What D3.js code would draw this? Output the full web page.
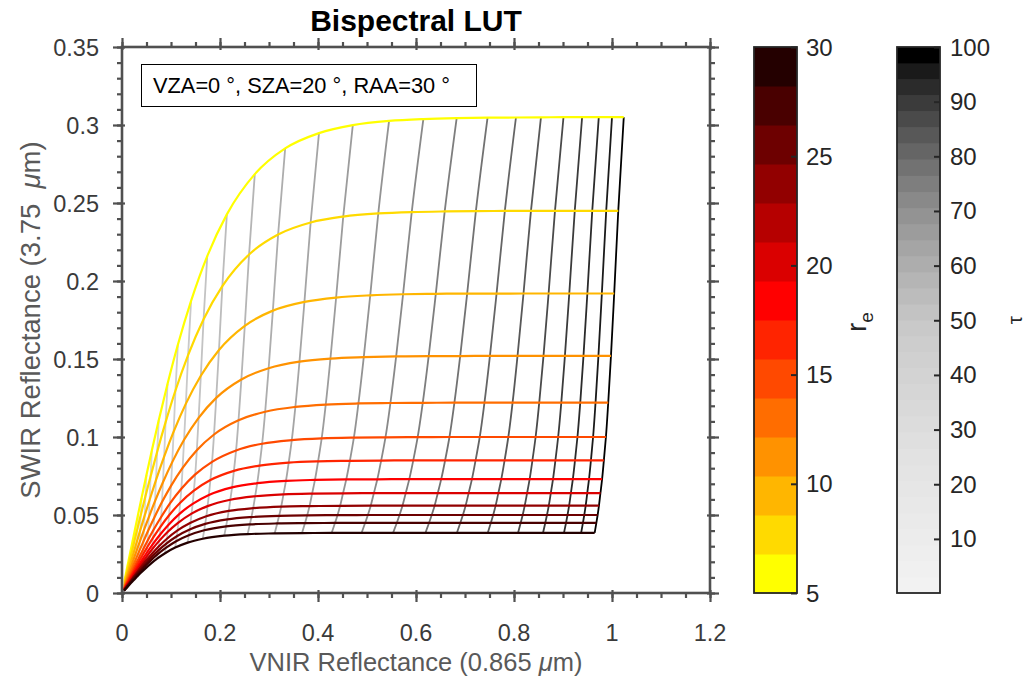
<!DOCTYPE html>
<html>
<head>
<meta charset="utf-8">
<script src="https://cdn.jsdelivr.net/npm/d3@7"></script>
<style>
  body { margin: 0; background: #fff; }
  svg { display: block; }
  text { font-family: "Liberation Sans", Arial, Helvetica, sans-serif; }
</style>
</head>
<body>
<svg id="chart" width="1029" height="682"></svg>
<script>
// Bispectral look-up table: one row per effective radius, one column per optical thickness.
const effectiveRadius = [5, 7, 9, 11, 13, 15, 17, 19, 21, 23, 25, 27, 30];
const opticalThickness = [0.1, 0.15, 0.2, 0.25, 0.3, 0.4, 0.5, 0.6, 0.75, 0.9, 1.1, 1.4, 1.7, 2.1, 2.6, 3.2, 4,
  5, 6.3, 8, 10, 12.5, 15, 18, 22, 26, 30, 36, 43, 50, 60, 70, 85, 100];

// VNIR (0.865 um) reflectance
const vnirReflectance = [
  [0.0051,0.0063,0.0077,0.0095,0.0117,0.0144,0.0180,0.0220,0.0270,0.0330,0.0400,0.0500,0.0610,0.0750,0.0930,0.1140,0.1410,0.1740,0.2140,0.2710,0.3330,0.4020,0.4710,0.5450,0.6150,0.6830,0.7460,0.8040,0.8550,0.9010,0.9390,0.9730,1.0000,1.0240],
  [0.0049,0.0060,0.0074,0.0091,0.0112,0.0138,0.0172,0.0211,0.0258,0.0316,0.0383,0.0478,0.0584,0.0718,0.0890,0.1091,0.1349,0.1665,0.2048,0.2593,0.3186,0.3850,0.4515,0.5230,0.5913,0.6586,0.7222,0.7813,0.8346,0.8836,0.9240,0.9597,0.9882,1.0128],
  [0.0047,0.0058,0.0071,0.0088,0.0108,0.0133,0.0166,0.0203,0.0250,0.0305,0.0370,0.0462,0.0564,0.0693,0.0860,0.1054,0.1304,0.1609,0.1979,0.2506,0.3079,0.3723,0.4370,0.5066,0.5736,0.6404,0.7044,0.7644,0.8194,0.8706,0.9128,0.9497,0.9793,1.0045],
  [0.0046,0.0057,0.0069,0.0085,0.0105,0.0129,0.0162,0.0198,0.0243,0.0297,0.0360,0.0449,0.0548,0.0674,0.0836,0.1025,0.1267,0.1564,0.1923,0.2436,0.2993,0.3622,0.4254,0.4934,0.5595,0.6259,0.6902,0.7509,0.8072,0.8602,0.9039,0.9418,0.9723,0.9979],
  [0.0045,0.0055,0.0068,0.0083,0.0103,0.0126,0.0158,0.0193,0.0237,0.0290,0.0351,0.0439,0.0535,0.0658,0.0816,0.1000,0.1237,0.1527,0.1878,0.2378,0.2922,0.3538,0.4158,0.4825,0.5478,0.6138,0.6784,0.7397,0.7971,0.8515,0.8965,0.9352,0.9664,0.9923],
  [0.0044,0.0054,0.0066,0.0082,0.0101,0.0124,0.0155,0.0189,0.0232,0.0283,0.0344,0.0430,0.0524,0.0644,0.0799,0.0979,0.1211,0.1495,0.1838,0.2328,0.2860,0.3465,0.4075,0.4732,0.5377,0.6034,0.6683,0.7301,0.7884,0.8441,0.8901,0.9295,0.9614,0.9876],
  [0.0043,0.0053,0.0065,0.0080,0.0099,0.0121,0.0152,0.0185,0.0228,0.0278,0.0337,0.0421,0.0514,0.0632,0.0784,0.0961,0.1188,0.1467,0.1804,0.2284,0.2807,0.3402,0.4002,0.4650,0.5289,0.5944,0.6594,0.7216,0.7808,0.8376,0.8845,0.9245,0.9570,0.9834],
  [0.0042,0.0052,0.0064,0.0079,0.0097,0.0119,0.0149,0.0182,0.0224,0.0273,0.0331,0.0414,0.0506,0.0622,0.0771,0.0945,0.1168,0.1442,0.1773,0.2246,0.2760,0.3346,0.3938,0.4577,0.5211,0.5863,0.6515,0.7142,0.7741,0.8319,0.8796,0.9201,0.9531,0.9798],
  [0.0042,0.0051,0.0063,0.0078,0.0095,0.0117,0.0147,0.0179,0.0220,0.0269,0.0326,0.0408,0.0498,0.0612,0.0759,0.0930,0.1150,0.1419,0.1746,0.2211,0.2717,0.3295,0.3880,0.4511,0.5140,0.5790,0.6444,0.7074,0.7680,0.8267,0.8751,0.9161,0.9495,0.9764],
  [0.0041,0.0051,0.0062,0.0076,0.0094,0.0116,0.0145,0.0177,0.0217,0.0265,0.0322,0.0402,0.0490,0.0603,0.0748,0.0917,0.1134,0.1399,0.1721,0.2179,0.2677,0.3249,0.3827,0.4452,0.5076,0.5724,0.6380,0.7013,0.7625,0.8219,0.8710,0.9125,0.9463,0.9734],
  [0.0040,0.0050,0.0061,0.0075,0.0093,0.0114,0.0143,0.0175,0.0214,0.0262,0.0317,0.0397,0.0484,0.0595,0.0738,0.0905,0.1119,0.1381,0.1698,0.2150,0.2642,0.3207,0.3780,0.4398,0.5018,0.5664,0.6321,0.6957,0.7575,0.8177,0.8673,0.9092,0.9434,0.9707],
  [0.0040,0.0049,0.0060,0.0074,0.0092,0.0113,0.0141,0.0172,0.0212,0.0259,0.0313,0.0392,0.0478,0.0588,0.0729,0.0893,0.1105,0.1363,0.1677,0.2124,0.2609,0.3168,0.3735,0.4347,0.4963,0.5609,0.6267,0.6905,0.7528,0.8137,0.8639,0.9062,0.9407,0.9681],
  [0.0039,0.0049,0.0059,0.0073,0.0090,0.0111,0.0139,0.0169,0.0208,0.0254,0.0308,0.0385,0.0470,0.0578,0.0716,0.0878,0.1086,0.1340,0.1648,0.2087,0.2564,0.3115,0.3674,0.4278,0.4889,0.5532,0.6192,0.6834,0.7464,0.8082,0.8592,0.9020,0.9370,0.9646]
];

// SWIR (3.75 um) reflectance
const swirReflectance = [
  [0.0079,0.0098,0.0119,0.0147,0.0181,0.0223,0.0278,0.0339,0.0415,0.0506,0.0611,0.0758,0.0915,0.1108,0.1341,0.1591,0.1873,0.2160,0.2427,0.2685,0.2850,0.2948,0.2999,0.3026,0.3038,0.3044,0.3047,0.3048,0.3049,0.3050,0.3050,0.3050,0.3050,0.3050],
  [0.0065,0.0080,0.0098,0.0120,0.0148,0.0182,0.0227,0.0278,0.0340,0.0414,0.0500,0.0620,0.0748,0.0906,0.1095,0.1298,0.1525,0.1755,0.1967,0.2170,0.2298,0.2375,0.2413,0.2433,0.2442,0.2446,0.2448,0.2449,0.2450,0.2450,0.2450,0.2450,0.2450,0.2450],
  [0.0052,0.0064,0.0078,0.0096,0.0119,0.0146,0.0182,0.0222,0.0272,0.0331,0.0400,0.0496,0.0598,0.0723,0.0874,0.1034,0.1214,0.1393,0.1558,0.1713,0.1810,0.1866,0.1894,0.1908,0.1915,0.1918,0.1919,0.1919,0.1920,0.1920,0.1920,0.1920,0.1920,0.1920],
  [0.0042,0.0052,0.0064,0.0079,0.0097,0.0119,0.0149,0.0181,0.0222,0.0270,0.0326,0.0404,0.0487,0.0589,0.0710,0.0839,0.0982,0.1123,0.1251,0.1369,0.1441,0.1483,0.1503,0.1512,0.1517,0.1519,0.1519,0.1520,0.1520,0.1520,0.1520,0.1520,0.1520,0.1520],
  [0.0035,0.0043,0.0052,0.0065,0.0080,0.0098,0.0122,0.0149,0.0183,0.0222,0.0268,0.0332,0.0401,0.0483,0.0583,0.0687,0.0802,0.0915,0.1016,0.1107,0.1162,0.1193,0.1208,0.1215,0.1218,0.1219,0.1220,0.1220,0.1220,0.1220,0.1220,0.1220,0.1220,0.1220],
  [0.0029,0.0036,0.0044,0.0054,0.0067,0.0082,0.0103,0.0125,0.0153,0.0187,0.0225,0.0279,0.0336,0.0405,0.0487,0.0574,0.0668,0.0760,0.0841,0.0914,0.0957,0.0980,0.0991,0.0996,0.0998,0.0999,0.1000,0.1000,0.1000,0.1000,0.1000,0.1000,0.1000,0.1000],
  [0.0026,0.0032,0.0039,0.0048,0.0059,0.0072,0.0090,0.0110,0.0134,0.0163,0.0197,0.0244,0.0293,0.0353,0.0424,0.0498,0.0579,0.0656,0.0724,0.0783,0.0817,0.0836,0.0844,0.0847,0.0849,0.0850,0.0850,0.0850,0.0850,0.0850,0.0850,0.0850,0.0850,0.0850],
  [0.0023,0.0028,0.0034,0.0042,0.0052,0.0063,0.0079,0.0097,0.0118,0.0144,0.0173,0.0214,0.0258,0.0310,0.0372,0.0436,0.0506,0.0571,0.0628,0.0677,0.0704,0.0719,0.0725,0.0728,0.0729,0.0730,0.0730,0.0730,0.0730,0.0730,0.0730,0.0730,0.0730,0.0730],
  [0.0020,0.0025,0.0031,0.0038,0.0047,0.0057,0.0071,0.0087,0.0107,0.0130,0.0156,0.0193,0.0232,0.0279,0.0334,0.0391,0.0451,0.0509,0.0557,0.0598,0.0620,0.0632,0.0637,0.0639,0.0640,0.0640,0.0640,0.0640,0.0640,0.0640,0.0640,0.0640,0.0640,0.0640],
  [0.0018,0.0023,0.0027,0.0034,0.0042,0.0051,0.0064,0.0078,0.0096,0.0116,0.0140,0.0173,0.0208,0.0249,0.0298,0.0348,0.0401,0.0450,0.0492,0.0526,0.0544,0.0554,0.0557,0.0559,0.0560,0.0560,0.0560,0.0560,0.0560,0.0560,0.0560,0.0560,0.0560,0.0560],
  [0.0017,0.0021,0.0025,0.0031,0.0038,0.0047,0.0059,0.0072,0.0088,0.0107,0.0128,0.0158,0.0190,0.0228,0.0272,0.0317,0.0364,0.0407,0.0443,0.0472,0.0487,0.0495,0.0498,0.0499,0.0500,0.0500,0.0500,0.0500,0.0500,0.0500,0.0500,0.0500,0.0500,0.0500],
  [0.0015,0.0019,0.0023,0.0029,0.0035,0.0043,0.0054,0.0066,0.0081,0.0098,0.0118,0.0145,0.0174,0.0209,0.0249,0.0289,0.0332,0.0370,0.0402,0.0427,0.0440,0.0446,0.0448,0.0449,0.0450,0.0450,0.0450,0.0450,0.0450,0.0450,0.0450,0.0450,0.0450,0.0450],
  [0.0014,0.0017,0.0021,0.0026,0.0031,0.0039,0.0048,0.0059,0.0072,0.0087,0.0105,0.0130,0.0155,0.0185,0.0220,0.0255,0.0291,0.0323,0.0348,0.0368,0.0378,0.0382,0.0384,0.0385,0.0385,0.0385,0.0385,0.0385,0.0385,0.0385,0.0385,0.0385,0.0385,0.0385]
];

// axis and colorbar tick labels
const xTicks = [0, 0.2, 0.4, 0.6, 0.8, 1, 1.2];
const yTicks = [0, 0.05, 0.1, 0.15, 0.2, 0.25, 0.3, 0.35];
const reBarTicks = [5, 10, 15, 20, 25, 30];
const tauBarTicks = [10, 20, 30, 40, 50, 60, 70, 80, 90, 100];

// colormaps: yellow-red-black for r_e, light-to-black grey for tau
const reColormap = ["#ffff00","#ffda00","#ffb600","#ff9200","#ff6d00","#ff4900","#ff2400",
  "#ff0000","#da0000","#b60000","#920000","#6d0000","#490000","#240000"];
const tauColormap = ["#f2f2f2","#f0f0f0","#eeeeee","#ececec","#eaeaea","#e8e8e8","#e6e6e6","#e4e4e4",
  "#e2e2e2","#dfdfdf","#dcdcdc","#d9d9d9","#d6d6d6","#d3d3d3","#d0d0d0","#cdcdcd","#c9c9c9","#c3c3c3",
  "#bcbcbc","#b5b5b5","#adadad","#a5a5a5","#9c9c9c","#939393","#898989","#7e7e7e","#727272","#656565",
  "#585858","#4a4a4a","#3b3b3b","#2b2b2b","#1a1a1a","#000000"];

const svg = d3.select("#chart");
const axisColor = "#505050";
const inkColor = "#262626";
const box = { left: 122, right: 710, top: 47, bottom: 593 };

const x = d3.scaleLinear().domain([0, 1.2]).range([box.left, box.right]);
const y = d3.scaleLinear().domain([0, 0.35]).range([box.bottom, box.top]);
const reColor = d3.scaleQuantize().domain([d3.min(effectiveRadius), d3.max(effectiveRadius)]).range(reColormap);

const reLine = d3.line().x(d => x(d[0])).y(d => y(d[1])).curve(d3.curveMonotoneX);
const tauLine = d3.line().x(d => x(d[0])).y(d => y(d[1])).curve(d3.curveMonotoneY);
const curves = svg.append("g").attr("fill", "none").attr("stroke-linejoin", "round");

// constant-tau lines (underneath)
opticalThickness.forEach((t, i) => {
  const pts = effectiveRadius.map((re, j) => [vnirReflectance[j][i], swirReflectance[j][i]]);
  curves.append("path").attr("d", tauLine(pts))
    .attr("stroke", tauColormap[i]).attr("stroke-width", 1.8);
});

// constant-r_e curves
effectiveRadius.forEach((re, j) => {
  const pts = opticalThickness.map((t, i) => [vnirReflectance[j][i], swirReflectance[j][i]]);
  curves.append("path").attr("d", reLine(pts))
    .attr("stroke", reColor(re)).attr("stroke-width", 2.2);
});

// frame with ticks on all four sides
const xMinor = x.ticks(24), yMinor = y.ticks(35);
function tickSet(axisFn, scale, values, size, tr) {
  const g = svg.append("g").attr("transform", tr)
    .call(axisFn(scale).tickValues(values).tickSize(size).tickSizeOuter(0).tickFormat(""));
  g.select(".domain").remove();
  g.selectAll("line").attr("stroke", axisColor).attr("stroke-width", 2.2);
}
[[d3.axisBottom, x, `translate(0,${box.bottom})`, xTicks, xMinor],
 [d3.axisTop, x, `translate(0,${box.top})`, xTicks, xMinor],
 [d3.axisLeft, y, `translate(${box.left},0)`, yTicks, yMinor],
 [d3.axisRight, y, `translate(${box.right},0)`, yTicks, yMinor]].forEach(([fn, sc, tr, major, minor]) => {
  tickSet(fn, sc, minor, 5, tr);
  tickSet(fn, sc, major, 9, tr);
  tickSet(fn, sc, major, -3, tr);
});
svg.append("rect").attr("x", box.left).attr("y", box.top)
  .attr("width", box.right - box.left).attr("height", box.bottom - box.top)
  .attr("fill", "none").attr("stroke", axisColor).attr("stroke-width", 2.6);

// tick labels
const fmt = d3.format("~g");
svg.append("g").selectAll("text").data(xTicks).join("text")
  .attr("x", d => x(d)).attr("y", 641).attr("text-anchor", "middle")
  .attr("font-size", 23.5).attr("fill", "#3a3a3a").text(fmt);
svg.append("g").selectAll("text").data(yTicks).join("text")
  .attr("x", 99).attr("y", d => y(d) + 8.5).attr("text-anchor", "end")
  .attr("font-size", 23.5).attr("fill", "#3a3a3a").text(fmt);

// axis labels and title
const xl = svg.append("text").attr("x", (box.left + box.right) / 2).attr("y", 671)
  .attr("text-anchor", "middle").attr("font-size", 25.5).attr("fill", "#595959");
xl.append("tspan").text("VNIR Reflectance (0.865\u00a0");
xl.append("tspan").attr("font-style", "italic").text("\u03bc");
xl.append("tspan").text("m)");

const yl = svg.append("text").attr("transform", `translate(40,${(box.top + box.bottom) / 2}) rotate(-90)`)
  .attr("text-anchor", "middle").attr("font-size", 27.5).attr("fill", "#595959");
yl.append("tspan").text("SWIR Reflectance (3.75\u00a0\u00a0");
yl.append("tspan").attr("font-style", "italic").text("\u03bc");
yl.append("tspan").text("m)");

svg.append("text").attr("x", (box.left + box.right) / 2).attr("y", 31)
  .attr("text-anchor", "middle").attr("font-size", 30).attr("font-weight", "bold")
  .attr("fill", "#000").text("Bispectral LUT");

// geometry annotation
svg.append("rect").attr("x", 141.5).attr("y", 64.5).attr("width", 335).attr("height", 42)
  .attr("fill", "#fff").attr("stroke", "#000").attr("stroke-width", 1);
svg.append("text").attr("x", 153).attr("y", 93).attr("font-size", 21.8).attr("fill", "#000")
  .text("VZA=0 \u00b0, SZA=20 \u00b0, RAA=30 \u00b0");

// colorbars
function colorbar(left, width, values, colors, ticks, labelX) {
  const scale = d3.scaleLinear().domain(d3.extent(values)).range([box.bottom, box.top]);
  const q = d3.scaleQuantize().domain(d3.extent(values)).range(colors);
  const g = svg.append("g");
  g.selectAll("rect").data(colors).join("rect")
    .attr("x", left).attr("width", width)
    .attr("y", c => scale(q.invertExtent(c)[1]))
    .attr("height", c => scale(q.invertExtent(c)[0]) - scale(q.invertExtent(c)[1]) + 0.5)
    .attr("fill", c => c);
  const ax = g.append("g").attr("transform", `translate(${left + width},0)`)
    .call(d3.axisLeft(scale).tickValues(ticks).tickSize(6).tickSizeOuter(0).tickFormat(""));
  ax.select(".domain").remove();
  ax.selectAll("line").attr("stroke", inkColor).attr("stroke-width", 2);
  g.append("rect").attr("x", left).attr("y", box.top).attr("width", width)
    .attr("height", box.bottom - box.top).attr("fill", "none")
    .attr("stroke", inkColor).attr("stroke-width", 1.8);
  g.append("g").selectAll("text").data(ticks).join("text")
    .attr("x", labelX).attr("y", d => scale(d) + 8.5)
    .attr("font-size", 24).attr("fill", inkColor).text(d => d);
}
colorbar(754, 43, effectiveRadius, reColormap, reBarTicks, 806);
colorbar(897, 43, opticalThickness, tauColormap, tauBarTicks, 950);

const reLabel = svg.append("text").attr("transform", "translate(866,322) rotate(-90)")
  .attr("text-anchor", "middle").attr("font-size", 27).attr("fill", inkColor);
reLabel.append("tspan").text("r");
reLabel.append("tspan").attr("dy", 7).attr("font-size", 19).text("e");

svg.append("text").attr("transform", "translate(1022,320) rotate(-90)")
  .attr("text-anchor", "middle").attr("font-size", 21).attr("fill", inkColor).text("\u03c4");
</script>
</body>
</html>
